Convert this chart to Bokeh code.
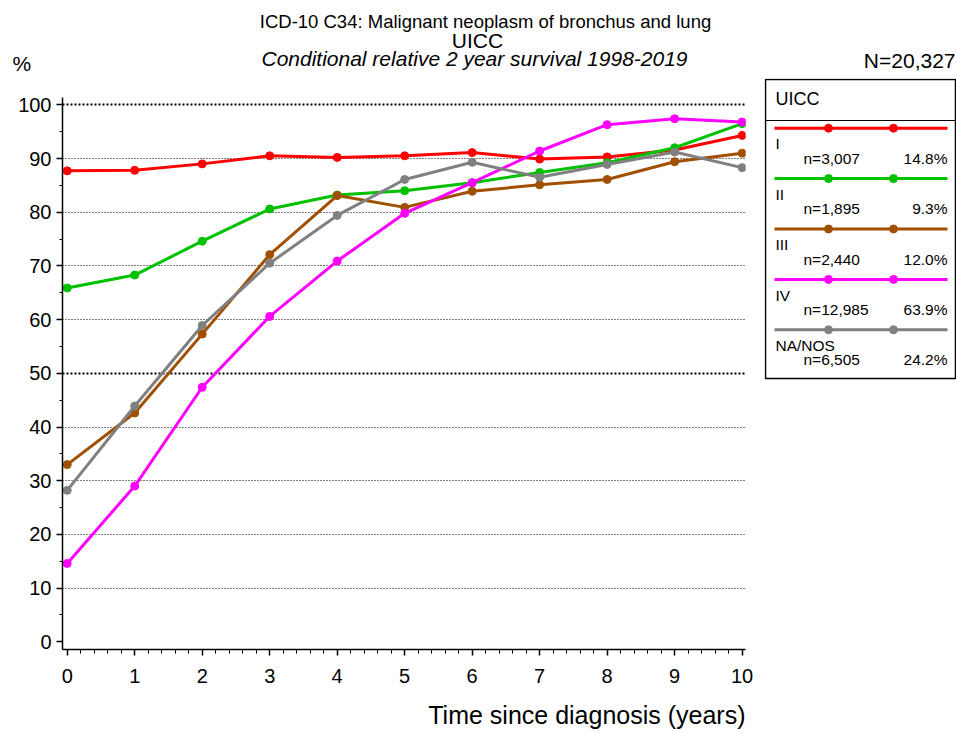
from bokeh.plotting import figure
from bokeh.models import Range1d, SingleIntervalTicker, FixedTicker, Grid
from bokeh.layouts import column, row
from bokeh.core.properties import value
from bokeh.embed import file_html
from bokeh.resources import INLINE

# ---------------- data ----------------
years = [0, 1, 2, 3, 4, 5, 6, 7, 8, 9, 10]
stage_I = [87.7, 87.8, 89.0, 90.5, 90.2, 90.5, 91.1, 89.9, 90.3, 91.6, 94.3]
stage_II = [65.9, 68.3, 74.6, 80.6, 83.2, 84.0, 85.5, 87.4, 89.2, 92.0, 96.5]
stage_III = [33.0, 42.6, 57.3, 72.1, 83.1, 80.9, 83.9, 85.1, 86.1, 89.4, 91.0]
stage_IV = [14.6, 29.0, 47.4, 60.6, 70.9, 79.8, 85.5, 91.4, 96.3, 97.4, 96.8]
stage_NA = [28.2, 43.9, 58.9, 70.5, 79.4, 86.1, 89.3, 86.5, 88.9, 91.2, 88.3]

series = [stage_I, stage_II, stage_III, stage_IV, stage_NA]
stage_labels = ["I", "II", "III", "IV", "NA/NOS"]
stage_counts = ["n=3,007", "n=1,895", "n=2,440", "n=12,985", "n=6,505"]
stage_shares = ["14.8%", "9.3%", "12.0%", "63.9%", "24.2%"]
colors = ["#FF0000", "#00C000", "#A05000", "#FF00FF", "#808080"]

grid_light = [10, 20, 30, 40, 60, 70, 80, 90]
grid_bold = [50, 100]

title_1 = "ICD-10 C34: Malignant neoplasm of bronchus and lung"
title_2 = "UICC"
title_3 = "Conditional relative 2 year survival 1998-2019"
total_n = "N=20,327"
x_label = "Time since diagnosis (years)"
legend_title = "UICC"

FONT = value("Liberation Sans")


def pixel_fig(w, h, **kw):
    f = figure(width=w, height=h, x_range=Range1d(0, w), y_range=Range1d(h, 0),
               x_axis_type=None, y_axis_type=None, output_backend="svg",
               toolbar_location=None, min_border=0, outline_line_color=None, **kw)
    f.grid.visible = False
    return f


def put_text(f, x, y, txt, size, align="left", style="normal"):
    f.text(x=[x], y=[y], text=[txt], text_font=FONT, text_font_size=size,
           text_font_style=style, text_align=align, text_baseline="middle",
           text_color="black")


W_TOTAL = 956
MAIN_W = 764
LEG_W = W_TOTAL - MAIN_W
HEAD_H = 78
ROW_H = 622
FOOT_H = 733 - HEAD_H - ROW_H
BORDER_BOTTOM = 51

# ---------------- header ----------------
header = pixel_fig(W_TOTAL, HEAD_H)
put_text(header, 485, 20.7, title_1, "18.5px", align="center")
put_text(header, 477, 40, title_2, "21px", align="center")
put_text(header, 474, 58.3, title_3, "21px", align="center", style="italic")
put_text(header, 12, 63.3, "%", "21px")
put_text(header, 955, 60, total_n, "21px", align="right")

# ---------------- main plot ----------------
Y_MIN, Y_TOP_AXIS, Y_MAX = -1.434, 101.4, 104.9
p = figure(width=MAIN_W, height=ROW_H, x_range=Range1d(-0.07, 10.05),
           y_range=Range1d(Y_MIN, Y_MAX), output_backend="svg", toolbar_location=None,
           min_border_left=62, min_border_right=19, min_border_top=0,
           min_border_bottom=BORDER_BOTTOM, outline_line_color=None,
           background_fill_color="white", border_fill_color="white")

p.xaxis.ticker = SingleIntervalTicker(interval=1, num_minor_ticks=5)
p.yaxis.ticker = SingleIntervalTicker(interval=10, num_minor_ticks=2)
p.yaxis.bounds = (Y_MIN, Y_TOP_AXIS)
for ax in (p.xaxis, p.yaxis):
    ax.axis_line_color = "black"
    ax.axis_line_width = 1.5
    ax.major_tick_line_color = "black"
    ax.major_tick_line_width = 1.5
    ax.minor_tick_line_color = "black"
    ax.minor_tick_line_width = 1
    ax.major_tick_in = 0
    ax.minor_tick_in = 0
    ax.major_tick_out = 6
    ax.major_label_text_font = "Liberation Sans"
    ax.major_label_text_font_size = "20px"
    ax.major_label_text_color = "black"
p.xaxis.minor_tick_out = 4
p.yaxis.minor_tick_out = 3
p.xaxis.major_label_standoff = 13
p.yaxis.major_label_standoff = 5

p.xgrid.visible = False
p.ygrid.ticker = FixedTicker(ticks=grid_light)
p.ygrid.grid_line_color = "black"
p.ygrid.grid_line_width = 1
p.ygrid.grid_line_dash = "1 2"
bold_grid = Grid(dimension=1, ticker=FixedTicker(ticks=grid_bold),
                 grid_line_color="black", grid_line_width=2, grid_line_dash="2 2")
p.add_layout(bold_grid)

for vals, col in zip(series, colors):
    p.line(years, vals, line_color=col, line_width=3)
    p.scatter(years, vals, size=8, fill_color=col, line_color=col)

# ---------------- legend panel (pixel coordinates inside its frame) ----------------
LEG_FRAME_H = ROW_H - BORDER_BOTTOM
leg = figure(width=LEG_W, height=ROW_H, x_range=Range1d(0, LEG_W),
             y_range=Range1d(LEG_FRAME_H, 0), x_axis_type=None, y_axis_type=None,
             output_backend="svg", toolbar_location=None, min_border_left=0,
             min_border_right=0, min_border_top=0, min_border_bottom=BORDER_BOTTOM,
             outline_line_color=None)
leg.grid.visible = False
leg.quad(left=[1], right=[LEG_W - 1], top=[1], bottom=[300], fill_color=None,
         line_color="black", line_width=1.5)
leg.segment(x0=[1], x1=[LEG_W - 1], y0=[42], y1=[42], line_color="black", line_width=1)
put_text(leg, 11, 20, legend_title, "18px")
for k, (lab, cnt, shr, col) in enumerate(zip(stage_labels, stage_counts, stage_shares, colors)):
    yl = 49.7 + 50.4 * k
    leg.segment(x0=[10], x1=[183], y0=[yl], y1=[yl], line_color=col, line_width=3)
    leg.scatter(x=[64, 129], y=[yl, yl], size=8, fill_color=col, line_color=col)
    put_text(leg, 11, yl + 15.6, lab, "15.5px")
    put_text(leg, 39, yl + 30, cnt, "15.5px")
    put_text(leg, 183, yl + 30, shr, "15.5px", align="right")

# ---------------- footer (x-axis title) ----------------
footer = pixel_fig(W_TOTAL, FOOT_H)
put_text(footer, 745, 14, x_label, "25px", align="right")

layout = column(header, row(p, leg), footer)

with open("out.html", "w") as fh:
    fh.write(file_html(layout, INLINE))
